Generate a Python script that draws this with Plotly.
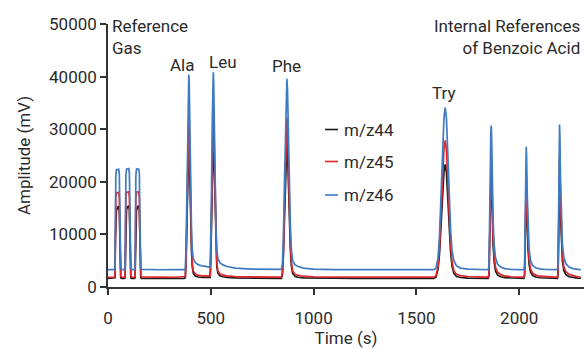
import plotly.graph_objects as go

# Time axis (s)
time_s = [
    0, 20,
    32, 34, 36, 38, 41, 47, 52, 55, 57, 59, 62, 66,
    74,
    81, 83, 85, 87, 90, 96, 101, 104, 106, 108, 111, 115,
    122,
    129.5, 131.5, 133.5, 135.5, 138.5, 144.5, 149.5, 152.5, 154.5, 156.5, 159.5, 163.5,
    200, 260, 320, 370,
    376, 380, 384, 388, 391, 393, 395, 398, 402, 406, 410, 415, 425, 440, 460, 480, 494,
    497, 500, 503, 507, 510, 512, 514, 517, 521, 525, 529, 534, 544, 559, 579, 620, 700, 790,
    843, 848, 853, 858, 863, 867, 870, 873, 877, 882, 887, 892, 898, 910, 925, 950, 1000,
    1100, 1200, 1300, 1400, 1500, 1585,
    1595, 1605, 1612, 1620, 1628, 1634, 1640, 1646, 1652, 1659, 1666, 1673, 1682, 1695, 1715, 1750, 1800, 1849,
    1853, 1857, 1860, 1862, 1864, 1866, 1869, 1873, 1878, 1885, 1895, 1910, 1930, 1960, 2000, 2023,
    2026, 2029, 2032, 2034, 2036, 2039, 2043, 2048, 2055, 2065, 2080, 2100, 2130, 2170, 2186,
    2189, 2192, 2194, 2196, 2198, 2201, 2205, 2210, 2217, 2227, 2242, 2262, 2285, 2300,
]

# m/z 46 amplitude (mV)
mz46 = [
    3300, 3300,
    3300, 3450, 15000, 21000, 22300, 22400, 22400, 21500, 14000, 5000, 3550, 3350,
    3300,
    3300, 3450, 15200, 21200, 22400, 22500, 22500, 21600, 14200, 5100, 3550, 3350,
    3300,
    3300, 3450, 15100, 21100, 22400, 22500, 22400, 21500, 14000, 5000, 3550, 3350,
    3300, 3280, 3300, 3290,
    3450, 8000, 18000, 32000, 38500, 40400, 38500, 30000, 20000, 11000, 7000, 5400, 4600, 4200, 4000, 3850, 3800,
    3900, 8500, 17000, 31000, 38800, 40800, 39000, 30500, 20500, 11500, 7200, 5500, 4600, 4200, 3900, 3600, 3400, 3320,
    3350, 4200, 9500, 19500, 31000, 37500, 39600, 37500, 29000, 20000, 11500, 7000, 5000, 4200, 3900, 3600, 3400,
    3320, 3300, 3280, 3300, 3290, 3300,
    3600, 5500, 9500, 17000, 26500, 32200, 34100, 32000, 26000, 18000, 11000, 7000, 5000, 4000, 3600, 3400, 3300, 3280,
    4000, 12000, 24000, 29500, 30700, 28000, 20000, 12500, 8000, 5500, 4300, 3800, 3500, 3350, 3300, 3280,
    4000, 12500, 23500, 26650, 24500, 17500, 11000, 7200, 5000, 4100, 3650, 3450, 3330, 3300, 3290,
    4500, 15000, 26000, 30900, 28200, 20300, 12800, 8200, 5600, 4400, 3800, 3500, 3350, 3300,
]

# m/z 45 amplitude (mV)
mz45 = [
    1850, 1860,
    1850, 2000, 12000, 17000, 17900, 18000, 18000, 17000, 11000, 3600, 2050, 1900,
    1860,
    1850, 2000, 12200, 17100, 18000, 18100, 18100, 17100, 11200, 3700, 2050, 1900,
    1860,
    1850, 2000, 12100, 17000, 18000, 18100, 18000, 17000, 11000, 3600, 2050, 1900,
    1850, 1870, 1850, 1860,
    2000, 6000, 14500, 26000, 31000, 32600, 31000, 24000, 16000, 8500, 4500, 3000, 2450, 2200, 2100, 2050, 2030,
    2100, 6500, 13800, 25500, 31800, 33400, 32000, 25000, 16500, 9000, 4800, 3100, 2500, 2250, 2100, 1980, 1900, 1860,
    1880, 2600, 6900, 15000, 24800, 30200, 32200, 30500, 23300, 15500, 8500, 4700, 3000, 2400, 2200, 2050, 1950,
    1900, 1880, 1870, 1860, 1880, 1870,
    2100, 3900, 7300, 13500, 21500, 26300, 27900, 26000, 20800, 14000, 8200, 4800, 3100, 2400, 2150, 2000, 1900, 1880,
    2500, 9200, 19000, 23500, 24550, 22300, 15800, 9600, 5800, 3700, 2800, 2350, 2100, 1950, 1900, 1880,
    2500, 9500, 18800, 21400, 19600, 13900, 8500, 5200, 3400, 2650, 2250, 2050, 1930, 1890, 1880,
    2900, 11500, 20500, 24550, 22400, 15900, 9800, 6000, 3800, 2900, 2400, 2150, 1950, 1900,
]

# m/z 44 amplitude (mV)
mz44 = [
    1620, 1630,
    1620, 1760, 9000, 13000, 14500, 15200, 15300, 14500, 9000, 3000, 1760, 1640,
    1620,
    1620, 1760, 9200, 13200, 14700, 15300, 15400, 14600, 9200, 3100, 1760, 1640,
    1620,
    1620, 1760, 9100, 13100, 14600, 15300, 15400, 14500, 9000, 3000, 1760, 1640,
    1620, 1610, 1630, 1620,
    1760, 5000, 12500, 22500, 26800, 28000, 26500, 20500, 13500, 7000, 3800, 2600, 2100, 1900, 1820, 1780, 1770,
    1820, 5500, 11800, 21800, 27200, 28500, 27300, 21300, 14000, 7600, 4000, 2700, 2150, 1950, 1830, 1730, 1660, 1630,
    1640, 2300, 5900, 12800, 21200, 25800, 27500, 26000, 19800, 13000, 7200, 4000, 2600, 2000, 1850, 1750, 1700,
    1670, 1650, 1640, 1640, 1650, 1640,
    1850, 3400, 6200, 11500, 18000, 22000, 23300, 21700, 17300, 11700, 6800, 4000, 2600, 2000, 1800, 1700, 1660, 1650,
    2150, 7800, 16200, 20100, 21000, 19000, 13400, 8100, 4800, 3000, 2250, 1950, 1780, 1700, 1660, 1650,
    2150, 8000, 15900, 18000, 16500, 11700, 7100, 4300, 2800, 2200, 1900, 1760, 1680, 1650, 1650,
    2500, 9800, 17500, 21000, 19100, 13500, 8200, 5000, 3100, 2350, 1950, 1780, 1680, 1660,
]

series_names = ["m/z44", "m/z45", "m/z46"]
series_colors = ["#1a1a1a", "#e3262b", "#3f7bc2"]
x_ticks = [0, 500, 1000, 1500, 2000]
y_ticks = [0, 10000, 20000, 30000, 40000, 50000]

FONT = "Roboto, Arial, sans-serif"
TXT = "#2b2b2b"
FS = 17

fig = go.Figure()
for name, vals, col in zip(series_names, [mz44, mz45, mz46], series_colors):
    fig.add_trace(go.Scatter(x=time_s, y=vals, mode="lines", name=name,
                             line=dict(color=col, width=1.7), showlegend=False))

W, H = 584, 349
L, R, T, B = 108, 0, 24, 62
pw, ph = W - L - R, H - T - B


def px(xp):
    return (xp - L) / pw


def py(yp):
    return (H - B - yp) / ph


annotations = [
    dict(text="Reference<br>Gas", x=px(110), y=py(37), xanchor="left", yanchor="middle", align="left"),
    dict(text="Ala", x=px(181.5), y=py(65), xanchor="center", yanchor="middle", align="center"),
    dict(text="Leu", x=px(223), y=py(62), xanchor="center", yanchor="middle", align="center"),
    dict(text="Phe", x=px(286), y=py(66), xanchor="center", yanchor="middle", align="center"),
    dict(text="Try", x=px(443), y=py(93), xanchor="center", yanchor="middle", align="center"),
    dict(text="Internal References<br>of Benzoic Acid", x=px(582), y=py(37), xanchor="right", yanchor="middle", align="right"),
]
legend_y = [129.5, 161.5, 195]
for name, col, yy in zip(series_names, series_colors, legend_y):
    annotations.append(dict(text=name, x=px(342), y=py(yy), xanchor="left", yanchor="middle", align="left"))
    fig.add_shape(type="line", xref="paper", yref="paper", x0=px(325), x1=px(338), y0=py(yy), y1=py(yy),
                  line=dict(color=col, width=1.6))

for a in annotations:
    fig.add_annotation(xref="paper", yref="paper", showarrow=False, font=dict(family=FONT, size=FS, color=TXT), **a)

axis_common = dict(showgrid=False, zeroline=False, showline=True, linecolor="#333333", linewidth=1.5,
                   ticks="outside", ticklen=6, tickwidth=1.5, tickcolor="#333333", automargin=False,
                   tickfont=dict(family=FONT, size=FS, color=TXT))

fig.update_xaxes(range=[0, 2315], tickvals=x_ticks, ticktext=[str(v) for v in x_ticks],
                 title=dict(text="Time (s)", font=dict(family=FONT, size=FS, color=TXT), standoff=5),
                 ticklabelstandoff=9, **axis_common)
fig.update_yaxes(range=[0, 50000], tickvals=y_ticks, ticktext=[str(v) for v in y_ticks],
                 title=dict(text="Amplitude (mV)", font=dict(family=FONT, size=FS, color=TXT), standoff=14),
                 **axis_common)

fig.update_layout(width=W, height=H, margin=dict(l=L, r=R, t=T, b=B),
                  paper_bgcolor="white", plot_bgcolor="white", showlegend=False,
                  font=dict(family=FONT, color=TXT))

fig.write_html("out.html", config={"displayModeBar": False},
               post_script="document.body.style.margin='0';document.body.style.overflow='hidden';")
